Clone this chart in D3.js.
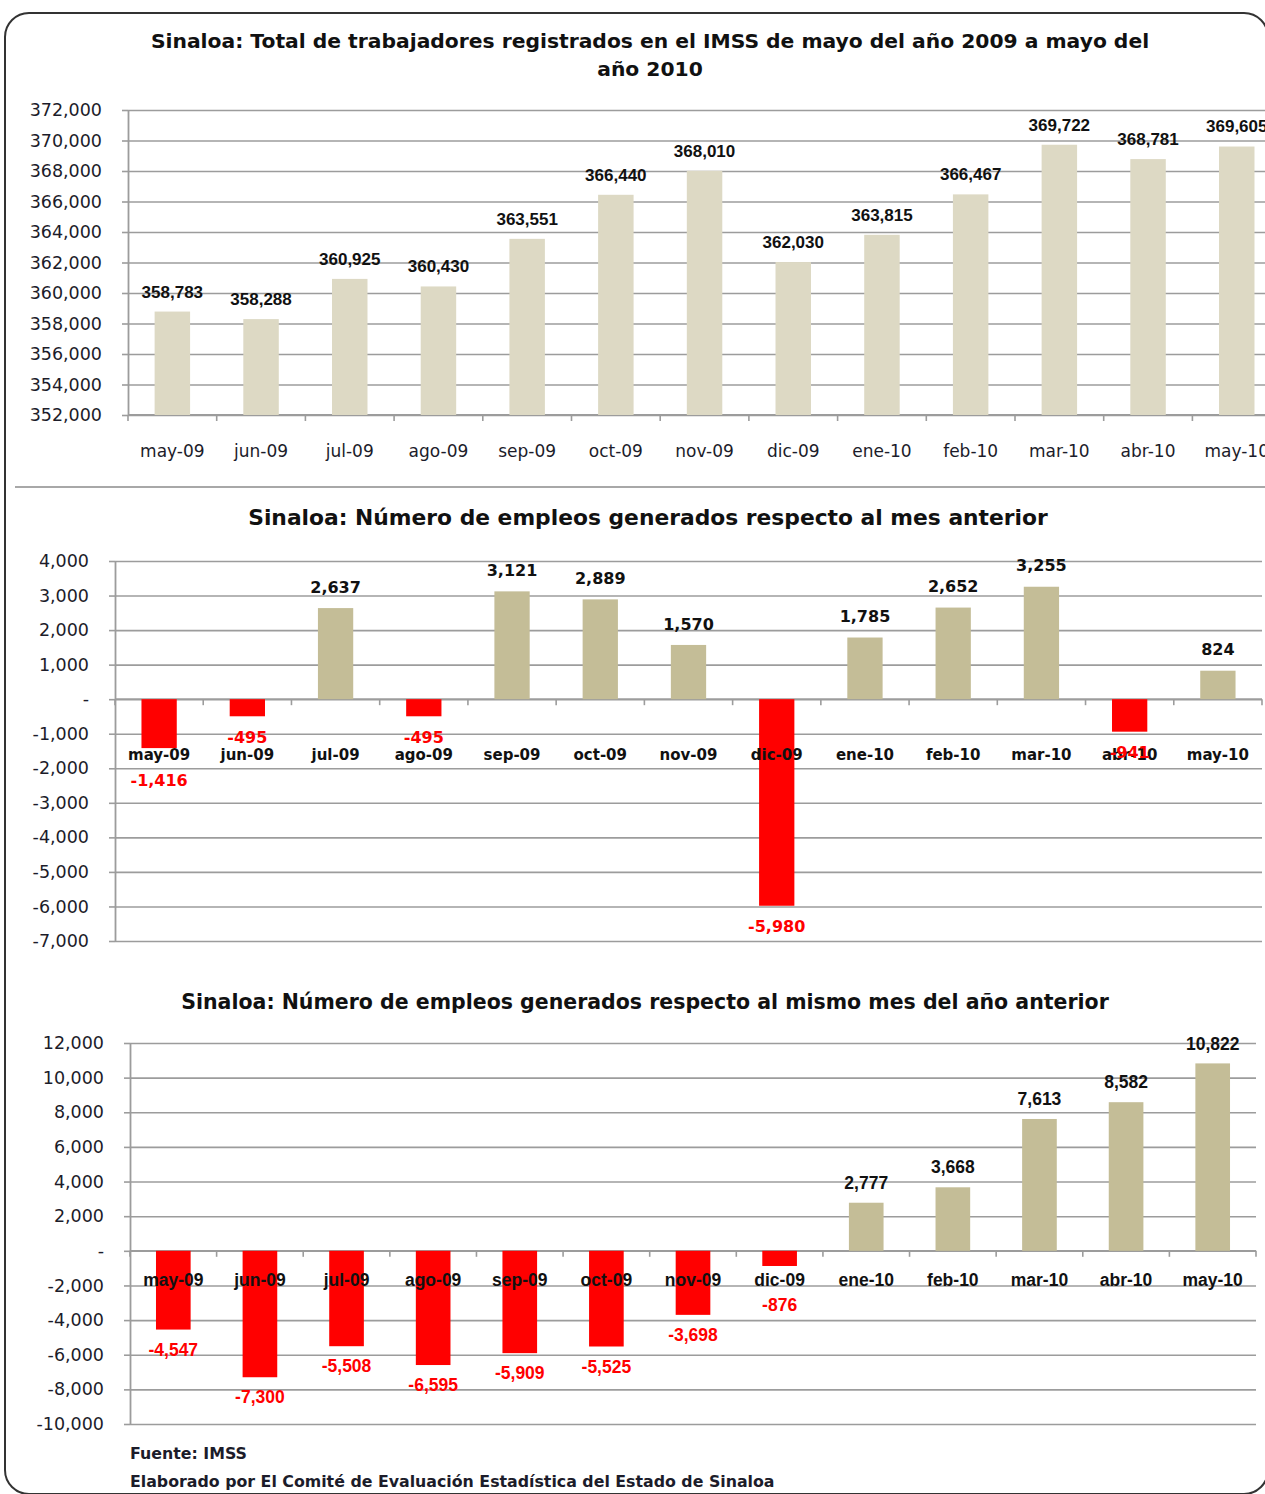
<!DOCTYPE html>
<html>
<head>
<meta charset="utf-8">
<script src="https://cdn.jsdelivr.net/npm/d3@7"></script>
<style>
  html, body { margin: 0; padding: 0; background: #fff; }
  svg { display: block; }
</style>
</head>
<body>
<div id="chart"></div>
<script>
// data
const months = ['may-09', 'jun-09', 'jul-09', 'ago-09', 'sep-09', 'oct-09', 'nov-09',
    'dic-09', 'ene-10', 'feb-10', 'mar-10', 'abr-10', 'may-10'];
const totalWorkers = [358783, 358288, 360925, 360430, 363551, 366440, 368010,
    362030, 363815, 366467, 369722, 368781, 369605];
const monthlyChange = [-1416, -495, 2637, -495, 3121, 2889, 1570, -5980, 1785, 2652, 3255, -941, 824];
const yearlyChange = [-4547, -7300, -5508, -6595, -5909, -5525, -3698, -876, 2777, 3668, 7613, 8582, 10822];

const totalTicks = [352000, 354000, 356000, 358000, 360000, 362000, 364000, 366000, 368000, 370000, 372000];
const monthlyTicks = [-7000, -6000, -5000, -4000, -3000, -2000, -1000, 0, 1000, 2000, 3000, 4000];
const yearlyTicks = [-10000, -8000, -6000, -4000, -2000, 0, 2000, 4000, 6000, 8000, 10000, 12000];

const titles = [
    ['Sinaloa: Total de trabajadores registrados en el IMSS de mayo del año 2009 a mayo del', 'año 2010'],
    ['Sinaloa: Número de empleos generados respecto al mes anterior'],
    ['Sinaloa: Número de empleos generados respecto al mismo mes del año anterior']
];
const footer = ['Fuente: IMSS', 'Elaborado por El Comité de Evaluación Estadística del Estado de Sinaloa'];

const W = 1265, H = 1494;
const GRID = '#9c9c9c';
const DEJAVU = '"DejaVu Sans", Verdana, sans-serif';
const ARIAL = '"Liberation Sans", Arial, sans-serif';

const fmt = d3.formatLocale({ decimal: '.', thousands: ',', grouping: [3], currency: ['$', ''], minus: '-' }).format(',');
const tickFmt = v => v === 0 ? '-' : fmt(v);

const svg = d3.select('#chart').append('svg')
    .attr('width', W)
    .attr('height', H);

// outer rounded frame
svg.append('rect')
    .attr('x', 5).attr('y', 13)
    .attr('width', 1263).attr('height', 1481)
    .attr('rx', 24)
    .attr('fill', 'none')
    .attr('stroke', '#333')
    .attr('stroke-width', 2);

// separator under the first chart
svg.append('line')
    .attr('x1', 15).attr('x2', W)
    .attr('y1', 487).attr('y2', 487)
    .attr('stroke', '#a8a8a8')
    .attr('stroke-width', 2);

function drawTitle(lines, cx, y0, size) {
    lines.forEach((t, i) => {
        svg.append('text')
            .attr('x', cx).attr('y', y0 + i * 28)
            .attr('text-anchor', 'middle')
            .attr('font-family', DEJAVU)
            .attr('font-weight', 'bold')
            .attr('font-size', size)
            .attr('fill', '#111')
            .text(t);
    });
}

function drawPanel(opt) {
    const g = svg.append('g');
    const x = d3.scaleBand()
        .domain(months)
        .range([opt.left, opt.right])
        .paddingInner(0.6)
        .paddingOuter(0.3);
    const y = d3.scaleLinear()
        .domain(d3.extent(opt.ticks))
        .range([opt.bottom, opt.top]);
    const width = opt.right - opt.left;

    // gridlines
    g.append('g')
        .attr('transform', 'translate(' + opt.left + ',0)')
        .call(d3.axisLeft(y).tickValues(opt.ticks).tickSize(-width).tickFormat(''))
        .call(s => s.select('.domain').remove())
        .selectAll('line')
        .attr('stroke', GRID)
        .attr('stroke-width', 1.6);

    // y axis with labels
    const yAxis = g.append('g')
        .attr('transform', 'translate(' + opt.left + ',0)')
        .call(d3.axisLeft(y).tickValues(opt.ticks).tickSize(6).tickSizeOuter(0).tickPadding(20).tickFormat(tickFmt));
    yAxis.selectAll('line').attr('stroke', GRID).attr('stroke-width', 1.6);
    yAxis.select('.domain').attr('stroke', GRID).attr('stroke-width', 1.8);
    yAxis.selectAll('text')
        .attr('font-family', DEJAVU)
        .attr('font-size', 17.5)
        .attr('fill', '#1c1c2a');

    // category axis line with ticks between the categories
    const y0 = y(opt.base);
    g.append('line')
        .attr('x1', opt.left).attr('x2', opt.right)
        .attr('y1', y0).attr('y2', y0)
        .attr('stroke', GRID)
        .attr('stroke-width', 1.8);
    const edges = months.map(m => x(m) - x.step() * x.paddingOuter()).concat([opt.right]);
    g.selectAll('line.cat-tick')
        .data(edges)
        .join('line')
        .attr('class', 'cat-tick')
        .attr('x1', d => d).attr('x2', d => d)
        .attr('y1', y0).attr('y2', y0 + 6)
        .attr('stroke', GRID)
        .attr('stroke-width', 1.6);

    // bars
    g.selectAll('rect.bar')
        .data(opt.values)
        .join('rect')
        .attr('class', 'bar')
        .attr('x', (_, i) => x(months[i]))
        .attr('width', x.bandwidth())
        .attr('y', d => Math.min(y(d), y0))
        .attr('height', d => Math.abs(y(d) - y0))
        .attr('fill', d => d >= opt.base ? opt.posColor : '#ff0000');

    // category labels
    g.selectAll('text.cat')
        .data(months)
        .join('text')
        .attr('class', 'cat')
        .attr('x', d => x(d) + x.bandwidth() / 2)
        .attr('y', opt.catY)
        .attr('dy', '0.35em')
        .attr('text-anchor', 'middle')
        .attr('font-family', opt.catFont)
        .attr('font-weight', opt.catWeight)
        .attr('font-size', opt.catSize)
        .attr('fill', opt.catColor)
        .text(d => d);

    // value labels, negative ones dodge below the category label
    g.selectAll('text.val')
        .data(opt.values)
        .join('text')
        .attr('class', 'val')
        .attr('x', (_, i) => x(months[i]) + x.bandwidth() / 2)
        .attr('y', d => {
            if (d >= opt.base) return y(d) - opt.labelGap;
            let c = y(d) + opt.labelGap;
            if (c > opt.catY + 2 && c < opt.catY + 20) c = opt.catY + 25;
            return c;
        })
        .attr('dy', '0.35em')
        .attr('text-anchor', 'middle')
        .attr('font-family', opt.valFont)
        .attr('font-weight', 'bold')
        .attr('font-size', opt.valSize)
        .attr('fill', d => d >= opt.base ? '#111' : '#ff0000')
        .text(d => fmt(d));
}

drawTitle(titles[0], 650, 48, 20.3);
drawPanel({
    values: totalWorkers, ticks: totalTicks, base: 352000,
    left: 128, right: 128 + 13 * 88.7, top: 110, bottom: 415,
    posColor: '#ddd9c4',
    catY: 451, catFont: DEJAVU, catWeight: 'normal', catSize: 17, catColor: '#1c1c2a',
    valFont: ARIAL, valSize: 17, labelGap: 20
});

drawTitle(titles[1], 648, 525, 21.8);
drawPanel({
    values: monthlyChange, ticks: monthlyTicks, base: 0,
    left: 115, right: 1262, top: 561, bottom: 941,
    posColor: '#c4bd97',
    catY: 755, catFont: DEJAVU, catWeight: 'bold', catSize: 15, catColor: '#111',
    valFont: DEJAVU, valSize: 16, labelGap: 21
});

drawTitle(titles[2], 645, 1009, 20.5);
drawPanel({
    values: yearlyChange, ticks: yearlyTicks, base: 0,
    left: 130, right: 1256, top: 1043, bottom: 1424,
    posColor: '#c4bd97',
    catY: 1280, catFont: ARIAL, catWeight: 'bold', catSize: 17.5, catColor: '#111',
    valFont: ARIAL, valSize: 17.5, labelGap: 20
});

footer.forEach((t, i) => {
    svg.append('text')
        .attr('x', 130).attr('y', 1459 + i * 28)
        .attr('font-family', DEJAVU)
        .attr('font-weight', 'bold')
        .attr('font-size', 15.8)
        .attr('fill', '#1c1c2a')
        .text(t);
});
</script>
</body>
</html>
